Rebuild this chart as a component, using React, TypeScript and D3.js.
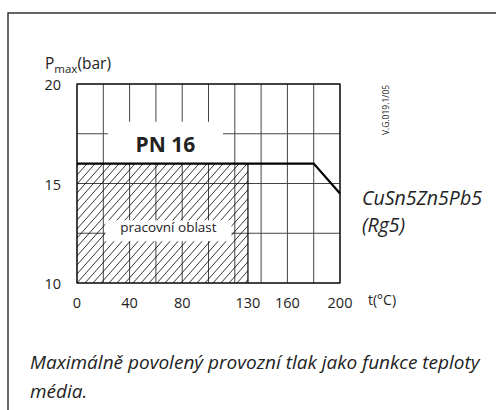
import React from "react";
import * as d3 from "d3";

const W = 496;
const H = 410;
const FONT = "'Open Sans', 'Noto Sans', sans-serif";

const xTicks = [0, 40, 80, 130, 160, 200];
const yTicks = [10, 15, 20];
const xGrid = [0, 20, 40, 60, 80, 100, 120, 140, 160, 180, 200];
const yGrid = [10, 12.5, 15, 17.5, 20];
const limitT = [0, 180, 200];
const limitP = [16, 16, 14.5];
const workT = [0, 130];
const workP = [10, 16];
const seriesName = ["CuSn5Zn5Pb5", "(Rg5)"];
const caption = ["Maximálně povolený provozní tlak jako funkce teploty", "média."];

export default function App() {
  const x = d3.scaleLinear().domain([0, 200]).range([77, 340]);
  const y = d3.scaleLinear().domain([10, 20]).range([283, 84]);
  const line = d3
    .line<number>()
    .x((_, i) => x(limitT[i]))
    .y((d) => y(d));

  const pnBox = { x0: x(23.5), x1: x(111), y0: y(18.1), y1: y(16) };
  const workBox = { x0: x(21.5), x1: x(117.5), y0: y(13.15), y1: y(12.1) };

  return (
    <svg width={W} height={H} style={{ display: "block", position: "absolute", left: 0, top: 0 }}>
      <defs>
        <pattern id="hatch" patternUnits="userSpaceOnUse" width="8" height="9" patternTransform="translate(77,283)">
          <line x1="0" y1="9" x2="8" y2="0" stroke="#000" strokeWidth="0.8" />
          <line x1="-8" y1="9" x2="0" y2="0" stroke="#000" strokeWidth="0.8" />
          <line x1="8" y1="9" x2="16" y2="0" stroke="#000" strokeWidth="0.8" />
        </pattern>
      </defs>
      <rect x={0} y={0} width={W} height={H} fill="#fff" />
      <path d={`M8,${H} L8,13 L${W},13`} fill="none" stroke="#333" strokeWidth={1.5} />

      {/* grid */}
      {xGrid.map((t) => (
        <line key={"vx" + t} x1={x(t)} x2={x(t)} y1={y(10)} y2={y(20)} stroke="#444" strokeWidth={1} />
      ))}
      {yGrid.map((p) => (
        <line key={"hy" + p} x1={x(0)} x2={x(200)} y1={y(p)} y2={y(p)} stroke="#444" strokeWidth={1} />
      ))}

      {/* working area */}
      <rect
        x={x(workT[0])}
        y={y(workP[1])}
        width={x(workT[1]) - x(workT[0])}
        height={y(workP[0]) - y(workP[1])}
        fill="url(#hatch)"
      />
      <line x1={x(workT[1])} x2={x(workT[1])} y1={y(workP[0])} y2={y(workP[1])} stroke="#000" strokeWidth={1.2} />

      {/* label boxes */}
      <rect x={pnBox.x0} y={pnBox.y0} width={pnBox.x1 - pnBox.x0} height={pnBox.y1 - pnBox.y0} fill="#fff" />
      <rect x={workBox.x0} y={workBox.y0} width={workBox.x1 - workBox.x0} height={workBox.y1 - workBox.y0} fill="#fff" />

      {/* plot border */}
      <rect x={x(0)} y={y(20)} width={x(200) - x(0)} height={y(10) - y(20)} fill="none" stroke="#111" strokeWidth={1.3} />

      {/* limit line */}
      <path d={line(limitP) || ""} fill="none" stroke="#000" strokeWidth={2.2} />

      <text x={(pnBox.x0 + pnBox.x1) / 2} y={y(16.6)} textAnchor="middle" fontFamily={FONT} fontWeight={700} fontSize={21} fill="#222">
        PN 16
      </text>
      <text x={(workBox.x0 + workBox.x1) / 2} y={y(12.55)} textAnchor="middle" fontFamily={FONT} fontSize={13.5} fill="#222">
        pracovní oblast
      </text>

      {/* ticks */}
      {yTicks.map((p) => (
        <text key={"yt" + p} x={61} y={y(p) + 6} textAnchor="end" fontFamily={FONT} fontSize={14.5} fill="#222">
          {p}
        </text>
      ))}
      {xTicks.map((t) => (
        <text key={"xt" + t} x={x(t)} y={308} textAnchor="middle" fontFamily={FONT} fontSize={14.5} fill="#222">
          {t}
        </text>
      ))}
      <text x={368} y={305} fontFamily={FONT} fontSize={14} fill="#222">
        t(°C)
      </text>
      <text x={45} y={69} fontFamily={FONT} fontSize={15.5} fill="#222">
        P<tspan fontSize={11.5} dy={4}>max</tspan>
        <tspan dy={-4}>(bar)</tspan>
      </text>
      <text
        transform={`translate(389,110) rotate(-90)`}
        textAnchor="middle"
        fontFamily={FONT}
        fontSize={8.5}
        fill="#222"
      >
        V.G.019.1/05
      </text>

      {seriesName.map((s, i) => (
        <text key={s} x={362} y={205 + i * 27} fontFamily={FONT} fontStyle="italic" fontSize={19.5} fill="#222">
          {s}
        </text>
      ))}
      {caption.map((s, i) => (
        <text key={s} x={30} y={369 + i * 29} fontFamily={FONT} fontStyle="italic" fontSize={19} fill="#222">
          {s}
        </text>
      ))}
    </svg>
  );
}
